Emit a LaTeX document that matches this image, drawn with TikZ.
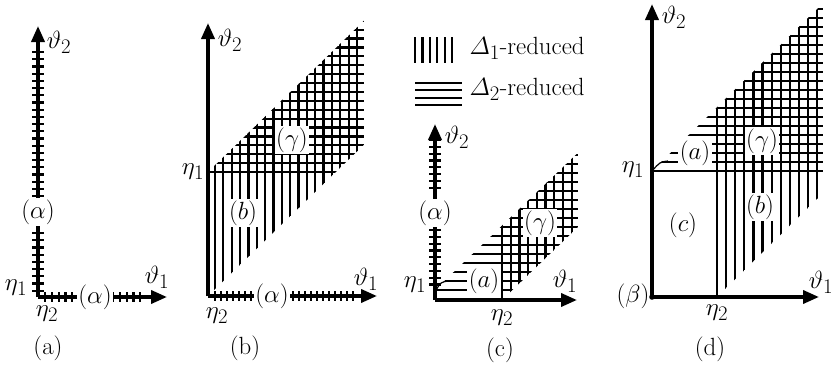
\documentclass[tikz,border=0pt]{standalone}
\usepackage{amsmath,amssymb}
\usetikzlibrary{arrows.meta}

\begin{document}
\begin{tikzpicture}[x=1pt,y=-1pt,
  font=\Huge,
  axis/.style={line width=3.6pt,-{Triangle[length=16pt,width=13pt]}},
  tick/.style={line width=2.2pt},
  hatch/.style={line width=2.2pt},
  lbl/.style={fill=white,inner sep=1.5pt},
  lead/.style={line width=1.2pt}]
  \useasboundingbox (0,0) rectangle (833,365);

  % Panel (a)
  \coordinate (Oa) at (38,297);
  \coordinate (Xa) at (167,297);
  \coordinate (Ya) at (38,26);
  \draw[axis] (Oa) -- (Ya);
  \draw[axis] (Oa) -- (Xa);
  \foreach \y in {52,59.2,...,198} \draw[tick] (32,\y) -- (44,\y);
  \foreach \y in {233,240.2,...,291} \draw[tick] (32,\y) -- (44,\y);
  \foreach \x in {45,51.8,...,74} \draw[tick] (\x,292) -- (\x,302);
  \foreach \x in {113,119.8,...,142} \draw[tick] (\x,292) -- (\x,302);
  \node[lbl] (alphaav) at (38,212) {$(\alpha)$};
  \node[lbl] (alphaah) at (95,297) {$(\alpha)$};
  \node (tha2) at (59,42) {$\vartheta_2$};
  \node (tha1) at (157,277) {$\vartheta_1$};
  \node (eta1a) at (16,288) {$\eta_1$};
  \node (eta2a) at (47,314) {$\eta_2$};
  \node (capa) at (48,348) {(a)};

  % Panel (b)
  \coordinate (Ob) at (208,296);
  \coordinate (Xb) at (377,296);
  \coordinate (Yb) at (208,23);
  \begin{scope}
    \clip (208,296) -- (208,172) -- (364,20.7) -- (364,144.7) -- cycle;
    \foreach \x in {215,223.35,...,358} \draw[hatch] (\x,300) -- (\x,0);
    \foreach \y in {172,163.1,...,20} \draw[hatch] (200,\y) -- (364,\y);
  \end{scope}
  \draw[axis] (Ob) -- (Yb);
  \draw[axis] (Ob) -- (Xb);
  \foreach \x in {215,221,...,258} \draw[tick] (\x,291) -- (\x,301);
  \foreach \x in {293,299,...,357} \draw[tick] (\x,291) -- (\x,301);
  \node[lbl] (gammab) at (292,140) {$(\gamma)$};
  \node[lbl] (regbb) at (243,213) {$(b)$};
  \node[lbl] (alphab) at (272,296) {$(\alpha)$};
  \node (thb2) at (230,40) {$\vartheta_2$};
  \node (thb1) at (366,279) {$\vartheta_1$};
  \node (eta1b) at (193,172) {$\eta_1$};
  \node (eta2b) at (217,316) {$\eta_2$};
  \node (capb) at (245,348) {(b)};

  % Legend
  \foreach \x in {415,422.4,...,453} \draw[hatch] (\x,37) -- (\x,63);
  \foreach \y in {83,90.3,...,106} \draw[hatch] (415,\y) -- (462,\y);
  \node[anchor=west] (leg1) at (466,48) {$\varDelta_1$-reduced};
  \node[anchor=west] (leg2) at (466,89) {$\varDelta_2$-reduced};

  % Panel (c)
  \coordinate (Oc) at (435,300);
  \coordinate (Xc) at (577,300);
  \coordinate (Yc) at (435,124);
  \begin{scope}
    \clip (435,300) -- (435,290) -- (578,152.7) -- (578,227) -- (502,300) -- cycle;
    \foreach \x in {502,510.7,...,574} \draw[hatch] (\x,305) -- (\x,100);
    \foreach \y in {290,281,...,150} \draw[hatch] (430,\y) -- (578,\y);
  \end{scope}
  \draw[axis] (Oc) -- (Yc);
  \draw[axis] (Oc) -- (Xc);
  \foreach \y in {140,146.8,...,194} \draw[tick] (429,\y) -- (441,\y);
  \foreach \y in {230,236.8,...,291} \draw[tick] (429,\y) -- (441,\y);
  \draw[lead] (436,290) .. controls (441,282) .. (449,281);
  \node[lbl] (alphac) at (435,213) {$(\alpha)$};
  \node[lbl] (regac) at (484,281) {$(a)$};
  \node[lbl] (gammac) at (540,223) {$(\gamma)$};
  \node (thc2) at (457,137) {$\vartheta_2$};
  \node (thc1) at (565,281) {$\vartheta_1$};
  \node (eta1c) at (415,285) {$\eta_1$};
  \node (eta2c) at (502,318) {$\eta_2$};
  \node (capc) at (500,350) {(c)};

  % Panel (d)
  \coordinate (Od) at (652,297);
  \coordinate (Xd) at (819,297);
  \coordinate (Yd) at (652,4);
  \begin{scope}
    \clip (652,297) -- (652,171) -- (823,3.4) -- (823,193.1) -- (717,297) -- cycle;
    \foreach \x in {717,726.1,...,818} \draw[hatch] (\x,300) -- (\x,0);
    \foreach \y in {171,162,...,5} \draw[hatch] (645,\y) -- (823,\y);
  \end{scope}
  \draw[axis] (Od) -- (Yd);
  \draw[axis] (Od) -- (Xd);
  \fill (Od) circle (2.8pt);
  \draw[lead] (652,171) .. controls (660,162) .. (668,161);
  \node[lbl] (regad) at (695,153) {$(a)$};
  \node[lbl] (gammad) at (762,141) {$(\gamma)$};
  \node[lbl] (regbd) at (760,207) {$(b)$};
  \node (regcd) at (683,225) {$(c)$};
  \node (betad) at (633,296) {$(\beta)$};
  \node (thd2) at (674,17) {$\vartheta_2$};
  \node (thd1) at (821,282) {$\vartheta_1$};
  \node (eta1d) at (633,170) {$\eta_1$};
  \node (eta2d) at (717,313) {$\eta_2$};
  \node (capd) at (710,349) {(d)};
\end{tikzpicture}
\end{document}
